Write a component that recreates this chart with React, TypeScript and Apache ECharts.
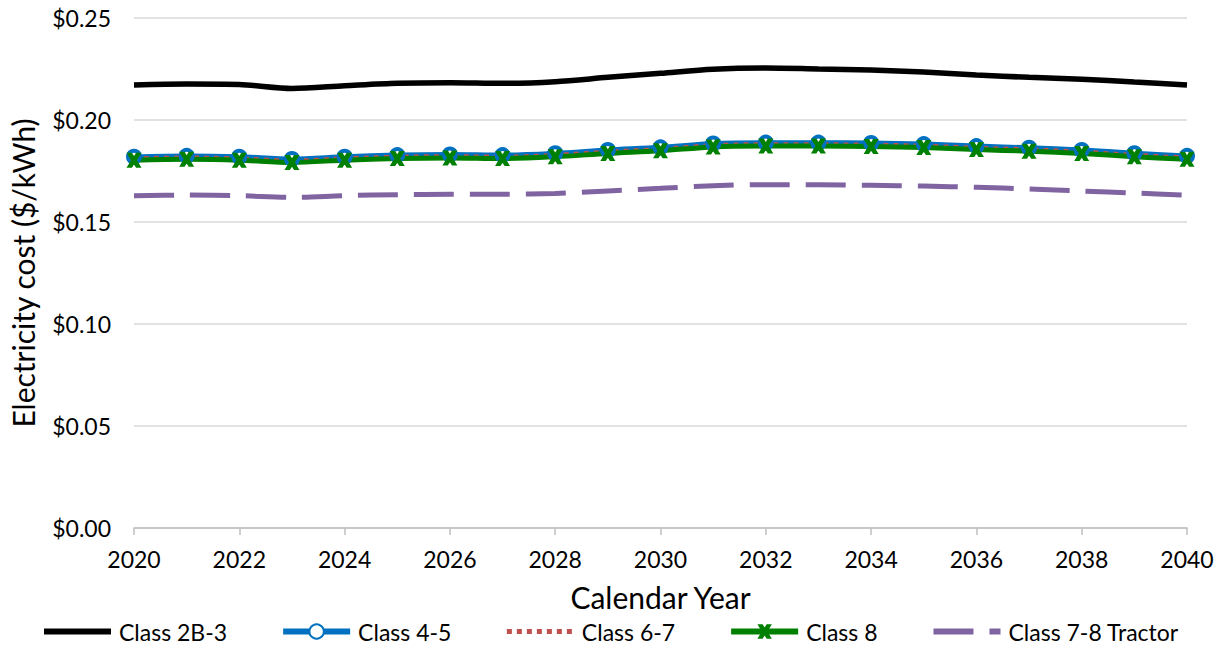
import React, { useEffect, useRef } from "react";
import * as echarts from "echarts";

const years = [2020, 2021, 2022, 2023, 2024, 2025, 2026, 2027, 2028, 2029, 2030, 2031, 2032, 2033, 2034, 2035, 2036, 2037, 2038, 2039, 2040];
const class2b3 = [0.2172, 0.2176, 0.2174, 0.2155, 0.2168, 0.218, 0.2183, 0.218, 0.2188, 0.2209, 0.2229, 0.2249, 0.2255, 0.225, 0.2245, 0.2235, 0.2221, 0.2209, 0.22, 0.2186, 0.2172];
const class45 = [0.182, 0.1824, 0.182, 0.1809, 0.182, 0.1828, 0.1831, 0.1828, 0.1837, 0.1853, 0.1866, 0.1885, 0.1889, 0.1889, 0.1887, 0.1882, 0.1872, 0.1864, 0.1853, 0.1837, 0.1824];
const class67 = [0.1812, 0.1816, 0.1812, 0.1801, 0.1812, 0.182, 0.1823, 0.182, 0.1829, 0.1845, 0.1858, 0.1877, 0.1881, 0.1881, 0.1879, 0.1874, 0.1864, 0.1856, 0.1845, 0.1829, 0.1816];
const class8 = [0.1803, 0.1807, 0.1803, 0.1792, 0.1803, 0.1811, 0.1814, 0.1811, 0.182, 0.1836, 0.1849, 0.1868, 0.1872, 0.1872, 0.187, 0.1865, 0.1855, 0.1847, 0.1836, 0.182, 0.1807];
const class78Tractor = [0.1629, 0.1632, 0.1629, 0.1621, 0.1629, 0.1634, 0.1636, 0.1636, 0.164, 0.1652, 0.1665, 0.1678, 0.1683, 0.1683, 0.168, 0.1676, 0.167, 0.1662, 0.1652, 0.1642, 0.1631];
const seriesNames = ["Class 2B-3", "Class 4-5", "Class 6-7", "Class 8", "Class 7-8 Tractor"];

const FONT = "Lato";
const X_PATH = "path://M0,0 L3.6,0 L5,2.2 L6.4,0 L10,0 L7,5 L10,10 L6.4,10 L5,7.8 L3.6,10 L0,10 L3,5 Z";

const pairs = (vals: number[]) => years.map((y, i) => [y, vals[i]]);

export default function App() {
  const ref = useRef<HTMLDivElement>(null);
  useEffect(() => {
    if (!ref.current) return;
    const chart = echarts.init(ref.current, undefined, { renderer: "svg" });
    chart.setOption({
      animation: false,
      textStyle: { fontFamily: FONT },
      grid: { left: 131, right: 38, top: 18, bottom: 120 },
      xAxis: {
        type: "value",
        min: 2020,
        max: 2040,
        interval: 2,
        name: "Calendar Year",
        nameLocation: "middle",
        nameGap: 54,
        nameTextStyle: { fontSize: 30, color: "#000", fontFamily: FONT },
        axisLine: { show: true, lineStyle: { color: "#BFBFBF", width: 1.5 } },
        axisTick: { show: true, length: 7, lineStyle: { color: "#BFBFBF", width: 1.5 } },
        splitLine: { show: false },
        axisLabel: { fontSize: 23, color: "#000", margin: 19, fontFamily: FONT, formatter: (v: number) => String(v) },
      },
      yAxis: {
        type: "value",
        min: 0,
        max: 0.25,
        interval: 0.05,
        name: "Electricity cost ($/kWh)",
        nameLocation: "middle",
        nameGap: 96,
        nameRotate: 90,
        nameTextStyle: { fontSize: 30, color: "#000", fontFamily: FONT },
        axisLine: { show: false },
        axisTick: { show: false },
        splitLine: { lineStyle: { color: "#D9D9D9", width: 1.5 } },
        axisLabel: { fontSize: 23, color: "#000", margin: 23, fontFamily: FONT, formatter: (v: number) => "$" + v.toFixed(2) },
      },
      legend: {
        bottom: 0,
        left: 36,
        itemWidth: 67,
        itemHeight: 18,
        itemGap: 53,
        lineStyle: { width: 6 },
        textStyle: { fontSize: 23, color: "#000", fontFamily: FONT, padding: [0, 0, 0, 3] },
        data: [
          { name: seriesNames[0], itemStyle: { opacity: 0 } },
          { name: seriesNames[1] },
          { name: seriesNames[2], itemStyle: { opacity: 0 }, lineStyle: { width: 5 } },
          { name: seriesNames[3] },
          { name: seriesNames[4], itemStyle: { opacity: 0 } },
        ],
      },
      series: [
        {
          name: seriesNames[0],
          type: "line",
          data: pairs(class2b3),
          smooth: 0.3,
          symbol: "none",
          lineStyle: { color: "#000000", width: 5.5 },
          itemStyle: { color: "#000000" },
        },
        {
          name: seriesNames[1],
          type: "line",
          data: pairs(class45),
          smooth: 0.3,
          symbol: "circle",
          symbolSize: 12,
          lineStyle: { color: "#0070C0", width: 5 },
          itemStyle: { color: "#FFFFFF", borderColor: "#0070C0", borderWidth: 4 },
        },
        {
          name: seriesNames[2],
          type: "line",
          data: pairs(class67),
          smooth: 0.3,
          symbol: "none",
          lineStyle: { color: "#C0504D", width: 4, type: [5, 5] },
          itemStyle: { color: "#C0504D" },
        },
        {
          name: seriesNames[3],
          type: "line",
          data: pairs(class8),
          smooth: 0.3,
          symbol: X_PATH,
          symbolSize: 15,
          lineStyle: { color: "#008000", width: 5 },
          itemStyle: { color: "#008000" },
        },
        {
          name: seriesNames[4],
          type: "line",
          data: pairs(class78Tractor),
          smooth: 0.3,
          symbol: "none",
          lineStyle: { color: "#8064A2", width: 5, type: [40, 16] },
          itemStyle: { color: "#8064A2" },
        },
      ],
    });
    return () => chart.dispose();
  }, []);
  return <div ref={ref} style={{ width: 1225, height: 648, position: "absolute", left: 0, top: 0 }} />;
}
